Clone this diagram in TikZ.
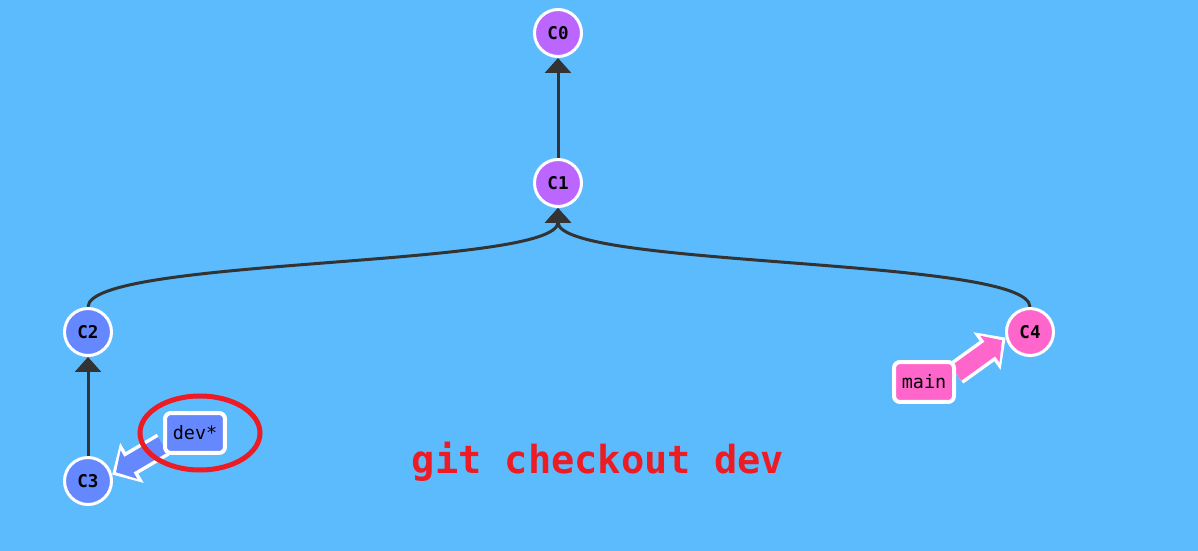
\documentclass[tikz,border=0pt]{standalone}
\usepackage{fontspec}
\newfontfamily\codefont{DejaVu Sans Mono}
\usetikzlibrary{arrows.meta}
\definecolor{sky}{RGB}{92,187,252}
\definecolor{cpurple}{RGB}{187,102,255}
\definecolor{cblue}{RGB}{102,136,255}
\definecolor{cpink}{RGB}{255,102,204}
\definecolor{cred}{RGB}{237,28,36}
\definecolor{cedge}{RGB}{51,51,51}
\pgfdeclarelayer{back}
\pgfsetlayers{back,main}
\begin{document}
\begin{tikzpicture}[x=0.02cm,y=-0.02cm,
        commit/.style={circle,draw=white,line width=0.06cm,minimum size=0.94cm,inner sep=0pt,font=\codefont\bfseries\fontsize{10}{10}\selectfont},
        branch/.style={rectangle,rounded corners=0.12cm,draw=white,line width=0.08cm,minimum width=1.2cm,minimum height=0.8cm,inner sep=0pt,font=\codefont\fontsize{10.5}{10.5}\selectfont},
        parent/.style={draw=cedge,line width=0.06cm,-{Triangle[length=0.3cm,width=0.52cm]}},
        ptrout/.style={draw=white,line width=0.5cm,-{Triangle[length=0.46cm,width=0.9cm]}},
        ptrin/.style={line width=0.36cm,shorten >=0.09cm,-{Triangle[length=0.3cm,width=0.64cm]}}]
        \useasboundingbox (0,0) rectangle (1198,551);
        \node[commit,fill=cpurple] (c0) at (558,33) {C0};
        \node[commit,fill=cpurple] (c1) at (558,183) {C1};
        \node[commit,fill=cblue] (c2) at (88,332) {C2};
        \node[commit,fill=cblue] (c3) at (88,481) {C3};
        \node[commit,fill=cpink] (c4) at (1030,332) {C4};
        \node[branch,fill=cblue] (dev) at (195,433) {dev*};
        \node[branch,fill=cpink] (main) at (924,382) {main};
        \node[text=cred,font=\codefont\bfseries\fontsize{22}{22}\selectfont] (cmd) at (598,462) {git checkout dev};
        \begin{pgfonlayer}{back}
        \fill[sky] (0,0) rectangle (1198,551);
        \draw[parent] (c1) -- (c0);
        \draw[parent] (c3) -- (c2);
        \draw[parent] (c2.north) .. controls ([yshift=1cm]c2.north) and ([yshift=-1.2cm]c1.south) .. (c1.south);
        \draw[parent] (c4.north) .. controls ([yshift=1cm]c4.north) and ([yshift=-1.2cm]c1.south) .. (c1.south);
        \draw[ptrout] (dev.200) -- (c3.15);
        \draw[ptrin,cblue] (dev.200) -- (c3.15);
        \draw[ptrout] (main.15) -- (c4.193);
        \draw[ptrin,cpink] (main.15) -- (c4.193);
        \end{pgfonlayer}
        \draw[line width=0.1cm,cred] ([xshift=0.1cm]dev.center) ellipse [x radius=60,y radius=37];
\end{tikzpicture}
\end{document}
